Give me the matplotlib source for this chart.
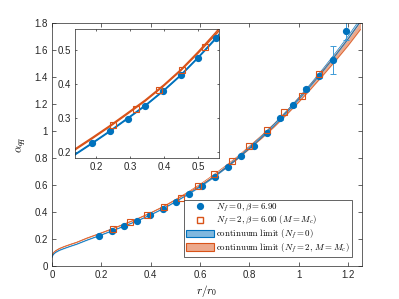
#static potential: alpha_qq vs r/r0 with continuum bands and zoom inset

import matplotlib.pyplot as plt
import numpy as np

# continuum limit curves (centre and half-width of band)
r_curve = [0.000, 0.003, 0.008, 0.015, 0.03, 0.05, 0.075, 0.10, 0.14, 0.19, 0.24, 0.29,
           0.345, 0.40, 0.45, 0.50, 0.55, 0.60, 0.65, 0.70, 0.75, 0.80, 0.85, 0.90,
           0.95, 1.00, 1.05, 1.10, 1.15, 1.20, 1.25]
cont_nf0 = [0.065, 0.080, 0.092, 0.103, 0.118, 0.132, 0.148, 0.163, 0.192, 0.225, 0.259, 0.295,
            0.335, 0.380, 0.425, 0.476, 0.530, 0.588, 0.652, 0.722, 0.796, 0.875, 0.957, 1.045,
            1.140, 1.240, 1.345, 1.455, 1.570, 1.690, 1.820]
cont_nf0_err = [0.001, 0.001, 0.001, 0.001, 0.001, 0.001, 0.001, 0.001, 0.001, 0.001, 0.001, 0.001,
                0.001, 0.001, 0.001, 0.001, 0.0015, 0.002, 0.003, 0.004, 0.004, 0.005, 0.005, 0.006,
                0.006, 0.007, 0.008, 0.009, 0.010, 0.011, 0.012]
cont_nf2 = [0.075, 0.091, 0.104, 0.115, 0.131, 0.146, 0.162, 0.177, 0.207, 0.240, 0.274, 0.310,
            0.350, 0.395, 0.440, 0.491, 0.545, 0.601, 0.663, 0.730, 0.800, 0.878, 0.957, 1.041,
            1.132, 1.228, 1.329, 1.434, 1.543, 1.656, 1.778]
cont_nf2_err = [0.0015, 0.0015, 0.0015, 0.0015, 0.0015, 0.0015, 0.0015, 0.0015, 0.0015, 0.0015,
                0.0015, 0.0015, 0.0015, 0.0015, 0.0015, 0.002, 0.003, 0.005, 0.007, 0.008, 0.009,
                0.010, 0.011, 0.012, 0.013, 0.015, 0.017, 0.019, 0.022, 0.025, 0.028]

# lattice data
r_nf0 = [0.190, 0.242, 0.293, 0.345, 0.397, 0.449, 0.501, 0.554, 0.606, 0.660,
         0.712, 0.764, 0.817, 0.870, 0.923, 0.977, 1.030, 1.083, 1.137, 1.190]
alpha_nf0 = [0.225, 0.259, 0.295, 0.333, 0.377, 0.424, 0.476, 0.535, 0.592, 0.658,
             0.735, 0.815, 0.891, 0.985, 1.094, 1.190, 1.308, 1.406, 1.525, 1.737]
err_nf0 = [0.001, 0.001, 0.001, 0.002, 0.002, 0.002, 0.003, 0.003, 0.004, 0.005,
           0.006, 0.007, 0.008, 0.009, 0.010, 0.012, 0.014, 0.016, 0.105, 0.068]
r_nf2 = [0.249, 0.317, 0.386, 0.453, 0.522, 0.590, 0.658, 0.728, 0.800, 0.872, 0.942, 1.012, 1.082]
alpha_nf2 = [0.278, 0.326, 0.380, 0.439, 0.508, 0.596, 0.682, 0.780, 0.891, 1.007, 1.138, 1.261, 1.418]

xticks_main = [0, 0.2, 0.4, 0.6, 0.8, 1, 1.2]
yticks_main = [0, 0.2, 0.4, 0.6, 0.8, 1, 1.2, 1.4, 1.6, 1.8]
ticks_inset = [0.2, 0.3, 0.4, 0.5]

blue = '#0072BD'
orange = '#D95319'
blue_fill = '#80B8DE'
orange_fill = '#ECA98C'

plt.rcParams['font.family'] = ['Liberation Sans', 'DejaVu Sans']
plt.rcParams['mathtext.fontset'] = 'cm'
plt.rcParams['axes.edgecolor'] = '#262626'
plt.rcParams['axes.linewidth'] = 0.5
plt.rcParams['xtick.color'] = '#262626'
plt.rcParams['ytick.color'] = '#262626'

def fmt(v):
    return ('%g' % v)

def draw_bands(ax, lw_edge):
    rc = np.array(r_curve)
    for c, e, fc, ec in ((cont_nf2, cont_nf2_err, orange_fill, orange),
                         (cont_nf0, cont_nf0_err, blue_fill, blue)):
        c = np.array(c)
        e = np.array(e)
        ax.fill_between(rc, c - e, c + e, color=fc, lw=0)
        ax.plot(rc, c - e, color=ec, lw=lw_edge)
        ax.plot(rc, c + e, color=ec, lw=lw_edge)

def style(ax, ticklen, fs):
    ax.tick_params(direction='in', top=True, right=True, length=ticklen, width=0.5,
                   labelsize=fs, pad=3)

fig = plt.figure(figsize=(3.99, 2.99), dpi=100)

# main axes
ax = fig.add_axes([0.1303, 0.1094, 0.7762, 0.8147])
draw_bands(ax, 0.45)
ax.errorbar(r_nf0, alpha_nf0, yerr=err_nf0, fmt='none', ecolor='#3d9ad6', elinewidth=0.7,
            capsize=2, capthick=0.7)
ax.plot(r_nf0, alpha_nf0, 'o', color=blue, ms=4.2, mec=blue)
ax.plot(r_nf2, alpha_nf2, 's', color=orange, mec=orange, mfc='none', ms=3.8, mew=0.8)
ax.set_xlim(0, 1.255)
ax.set_ylim(0, 1.8)
ax.set_xticks(xticks_main)
ax.set_xticklabels([fmt(v) for v in xticks_main])
ax.set_yticks(yticks_main)
ax.set_yticklabels([fmt(v) for v in yticks_main])
style(ax, 3, 7)
ax.set_xlabel(r'$r/r_0$', fontsize=8, labelpad=2)
ax.set_ylabel(r'$\alpha_{qq}$', fontsize=8)
ax.yaxis.set_label_coords(-0.075, 0.5)

# legend
h1, = ax.plot([], [], 'o', color=blue, mec=blue, ms=4.2)
h2, = ax.plot([], [], 's', color=orange, mec=orange, mfc='none', ms=4.0, mew=1.0)
h3 = plt.Rectangle((0, 0), 1, 1, fc=blue_fill, ec=blue, lw=0.8)
h4 = plt.Rectangle((0, 0), 1, 1, fc=orange_fill, ec=orange, lw=0.8)
leg = ax.legend([h1, h2, h3, h4],
                [r'$N_f=0, \beta=6.90$',
                 r'$N_f=2, \beta=6.00\ (M=M_c)$',
                 r'$\mathrm{continuum\ limit}\ (N_f=0)$',
                 r'$\mathrm{continuum\ limit}\ (N_f=2,\, M=M_c)$'],
                loc='lower right', bbox_to_anchor=(0.97, 0.039), borderaxespad=0,
                fontsize=6.4, handlelength=3.2, handleheight=0.85, handletextpad=0.25,
                labelspacing=0.05, borderpad=0.25, fancybox=False, framealpha=1,
                edgecolor='#262626')
leg.get_frame().set_linewidth(0.5)

# inset
axi = fig.add_axes([0.1892, 0.4706, 0.3596, 0.4314])
draw_bands(axi, 1.0)
axi.plot(r_nf0, alpha_nf0, 'o', color=blue, ms=4.2)
axi.plot(r_nf2, alpha_nf2, 's', color=orange, mec=orange, mfc='none', ms=3.8, mew=0.8)
axi.set_xlim(0.14, 0.562)
axi.set_ylim(0.18, 0.56)
axi.set_xticks(ticks_inset)
axi.set_xticklabels([fmt(v) for v in ticks_inset])
axi.set_yticks(ticks_inset)
axi.set_yticklabels([fmt(v) for v in ticks_inset])
style(axi, 1.5, 7)

fig.savefig('out.png', dpi=100)
